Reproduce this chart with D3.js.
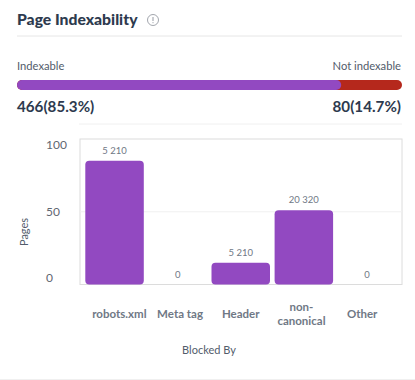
<!DOCTYPE html>
<html>
<head>
<meta charset="utf-8">
<script src="https://cdn.jsdelivr.net/npm/d3@7"></script>
<style>
    html, body { margin: 0; padding: 0; background: #fff; overflow: hidden; }
    text { font-family: Lato, "Noto Sans", sans-serif; }
</style>
</head>
<body>
<div id="chart"></div>
<script>
// Values
const splitLabels = ["Indexable", "Not indexable"];
const splitShares = [84.2, 15.8]; // as drawn, a little off the printed percentages
const splitTexts = ["466(85.3%)", "80(14.7%)"];

const categories = ["robots.xml", "Meta tag", "Header", "non-canonical", "Other"];
const barHeights = [85, 0, 15, 51, 0];
const barLabels = ["5 210", "0", "5 210", "20 320", "0"];
const yTicks = [0, 50, 100];

const COLORS = {
    purple: "#9249c1",
    red: "#b5281c",
    title: "#2d3a4e",
    text: "#525c6b",
    muted: "#6f7885",
    tick: "#5f6772",
    line: "#e6e6e6",
    frame: "#dcdcdc",
    grid: "#f0f0f0"
};

const svg = d3.select("#chart")
    .append("svg")
    .attr("width", 415)
    .attr("height", 380);

// Header
svg.append("text")
    .attr("x", 17)
    .attr("y", 25)
    .attr("fill", COLORS.title)
    .style("font-size", "15.7px")
    .style("font-weight", 900)
    .text("Page Indexability");

const icon = svg.append("g").attr("transform", "translate(153,20)");
icon.append("circle")
    .attr("r", 5.5)
    .attr("fill", "none")
    .attr("stroke", "#8a8f98")
    .attr("stroke-width", 0.8);
icon.append("path")
    .attr("d", "M0,-3V1M0,2.2V3.2")
    .attr("stroke", "#8a8f98")
    .attr("stroke-width", 0.9);

svg.append("line")
    .attr("x1", 17).attr("x2", 402)
    .attr("y1", 36).attr("y2", 36)
    .attr("stroke", COLORS.line);

// Stacked indexability bar
const xSplit = d3.scaleLinear().domain([0, d3.sum(splitShares)]).range([17, 402]);

svg.append("text")
    .attr("x", 17).attr("y", 70)
    .attr("fill", COLORS.text)
    .style("font-size", "11.2px")
    .text(splitLabels[0]);
svg.append("text")
    .attr("x", 401).attr("y", 70)
    .attr("text-anchor", "end")
    .attr("fill", COLORS.text)
    .style("font-size", "11.2px")
    .text(splitLabels[1]);

svg.append("rect")
    .attr("x", xSplit(0))
    .attr("y", 80)
    .attr("width", xSplit(d3.sum(splitShares)) - xSplit(0))
    .attr("height", 10)
    .attr("rx", 5)
    .attr("fill", COLORS.red);
svg.append("rect")
    .attr("x", xSplit(0))
    .attr("y", 80)
    .attr("width", xSplit(splitShares[0]) - xSplit(0))
    .attr("height", 10)
    .attr("rx", 5)
    .attr("fill", COLORS.purple);

svg.append("text")
    .attr("x", 17).attr("y", 112)
    .attr("fill", COLORS.title)
    .style("font-size", "15.2px")
    .style("font-weight", 700)
    .text(splitTexts[0]);
svg.append("text")
    .attr("x", 401).attr("y", 112)
    .attr("text-anchor", "end")
    .attr("fill", COLORS.title)
    .style("font-size", "15.2px")
    .style("font-weight", 700)
    .text(splitTexts[1]);

svg.append("line")
    .attr("x1", 79).attr("x2", 402)
    .attr("y1", 124).attr("y2", 124)
    .attr("stroke", COLORS.grid);

// Bar chart
const y = d3.scaleLinear().domain([0, 100]).range([284.5, 139]);
const x = d3.scaleBand().domain(categories).range([85.3, 396.2]).paddingInner(0.073).paddingOuter(0);

// The tick labels sit off the bars and gridlines in the original, so they get their own scales
const yLabel = d3.scaleLinear().domain([0, 100]).range([278, 145]);
const xLabel = d3.scaleBand().domain(categories).range([89, 392.5]);

svg.append("rect")
    .attr("x", 80).attr("y", y(100))
    .attr("width", 322).attr("height", y(0) - y(100))
    .attr("fill", "none")
    .attr("stroke", COLORS.frame);

svg.append("line")
    .attr("x1", 80).attr("x2", 402)
    .attr("y1", y(50)).attr("y2", y(50))
    .attr("stroke", COLORS.grid);

svg.selectAll(".bar")
    .data(categories)
    .join("path")
    .attr("class", "bar")
    .attr("fill", COLORS.purple)
    .attr("d", (d, i) => {
        if (barHeights[i] === 0) return null;
        const x0 = x(d), w = x.bandwidth(), top = y(barHeights[i]), bottom = y(0), r = 4;
        return `M${x0},${bottom - r}V${top + r}Q${x0},${top} ${x0 + r},${top}H${x0 + w - r}`
            + `Q${x0 + w},${top} ${x0 + w},${top + r}V${bottom - r}`
            + `Q${x0 + w},${bottom} ${x0 + w - r},${bottom}H${x0 + r}Q${x0},${bottom} ${x0},${bottom - r}Z`;
    });

svg.selectAll(".bar-label")
    .data(categories)
    .join("text")
    .attr("class", "bar-label")
    .attr("x", d => x(d) + x.bandwidth() / 2)
    .attr("y", (d, i) => y(barHeights[i]) - 7)
    .attr("text-anchor", "middle")
    .attr("fill", COLORS.muted)
    .style("font-size", "9.5px")
    .text((d, i) => barLabels[i]);

// Axes
const yAxis = svg.append("g")
    .attr("transform", "translate(46,0)")
    .call(d3.axisRight(yLabel).tickValues(yTicks).tickSize(0).tickPadding(0));
yAxis.select(".domain").remove();
yAxis.selectAll("text")
    .attr("fill", COLORS.tick)
    .style("font-family", "Lato, sans-serif")
    .style("font-size", "12px");

const xAxis = svg.append("g")
    .attr("transform", "translate(0,314)")
    .call(d3.axisBottom(xLabel).tickSize(0).tickPadding(0));
xAxis.select(".domain").remove();
xAxis.selectAll("text")
    .attr("dy", null)
    .attr("y", 4)
    .attr("fill", COLORS.muted)
    .style("font-family", "Lato, sans-serif")
    .style("font-size", "11.5px")
    .style("font-weight", 700)
    .each(function (d) {
        if (d !== "non-canonical") return;
        const t = d3.select(this).text(null);
        t.append("tspan").attr("x", 0).attr("y", -3).text("non-");
        t.append("tspan").attr("x", 0).attr("y", 11).text("canonical");
    });

svg.append("text")
    .attr("x", 209).attr("y", 354)
    .attr("text-anchor", "middle")
    .attr("fill", COLORS.text)
    .style("font-size", "11px")
    .text("Blocked By");

svg.append("text")
    .attr("transform", "translate(28,232) rotate(-90)")
    .attr("text-anchor", "middle")
    .attr("fill", COLORS.text)
    .style("font-size", "11px")
    .text("Pages");

svg.append("line")
    .attr("x1", 0).attr("x2", 415)
    .attr("y1", 379.5).attr("y2", 379.5)
    .attr("stroke", COLORS.grid);
</script>
</body>
</html>
